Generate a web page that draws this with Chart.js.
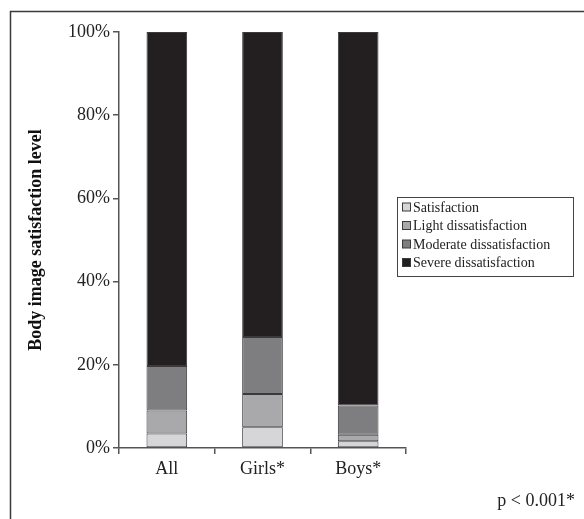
<!DOCTYPE html>
<html>
<head>
<meta charset="utf-8">
<title>Body image satisfaction</title>
<script src="https://cdn.jsdelivr.net/npm/chart.js"></script>
<style>
  html, body { margin: 0; padding: 0; background: #fff; }
  #wrap { width: 584px; height: 519px; }
</style>
</head>
<body>
<div id="wrap"><canvas id="chart" width="584" height="519"></canvas></div>
<script>
const groups = ['All', 'Girls*', 'Boys*'];
const satisfaction = [3.5, 5.0, 1.6];
const lightDissatisfaction = [5.5, 8.0, 1.6];
const moderateDissatisfaction = [10.7, 13.7, 7.0];
const severeDissatisfaction = [80.3, 73.3, 89.8];
const yTicks = [0, 20, 40, 60, 80, 100];
const pNote = 'p < 0.001*';

const serif = '"Liberation Serif", "Times New Roman", serif';
const edge = '#3a3a3a';

function series(label, data, color) {
    return {
        label: label,
        data: data,
        backgroundColor: color,
        borderColor: edge,
        borderWidth: 1,
        borderSkipped: false,
        barPercentage: 0.425,
        categoryPercentage: 1
    };
}

// frame, legend box and p-value note
const extras = {
    id: 'extras',
    afterDraw(chart) {
        const ctx = chart.ctx;
        ctx.save();
        ctx.strokeStyle = '#3a3a3a';
        ctx.lineWidth = 1.5;
        ctx.beginPath();
        ctx.moveTo(10.5, 519);
        ctx.lineTo(10.5, 11.5);
        ctx.lineTo(584, 11.5);
        ctx.stroke();

        // legend
        const bx = 397.5, by = 197.5, bw = 176, bh = 79;
        ctx.fillStyle = '#fff';
        ctx.fillRect(bx, by, bw, bh);
        ctx.lineWidth = 1;
        ctx.strokeStyle = '#444';
        ctx.strokeRect(bx, by, bw, bh);
        ctx.font = '14px ' + serif;
        ctx.textBaseline = 'middle';
        chart.data.datasets.forEach((ds, i) => {
            const cy = 207 + i * 18.5;
            ctx.fillStyle = ds.backgroundColor;
            ctx.fillRect(402.5, cy - 4, 8, 8);
            ctx.strokeStyle = edge;
            ctx.strokeRect(402.5, cy - 4, 8, 8);
            ctx.fillStyle = '#222';
            ctx.fillText(ds.label, 413, cy + 1);
        });

        ctx.font = '18px ' + serif;
        ctx.textAlign = 'right';
        ctx.textBaseline = 'alphabetic';
        ctx.fillStyle = '#222';
        ctx.fillText(pNote, 575, 506);
        ctx.restore();
    }
};

new Chart(document.getElementById('chart'), {
    type: 'bar',
    data: {
        labels: groups,
        datasets: [
            series('Satisfaction', satisfaction, '#d6d6d8'),
            series('Light dissatisfaction', lightDissatisfaction, '#a9a9ab'),
            series('Moderate dissatisfaction', moderateDissatisfaction, '#7e7e81'),
            series('Severe dissatisfaction', severeDissatisfaction, '#231f20')
        ]
    },
    options: {
        responsive: false,
        animation: false,
        layout: { padding: { top: 32, right: 178, bottom: 0, left: 0 } },
        plugins: {
            legend: { display: false },
            tooltip: { enabled: false }
        },
        scales: {
            x: {
                stacked: true,
                afterFit(scale) { scale.height = 71; },
                border: { color: '#555', width: 1.5 },
                grid: { offset: true, drawOnChartArea: false, drawTicks: true, tickLength: 6, color: '#555', lineWidth: 1.5 },
                ticks: { color: '#222', padding: 4, font: { family: serif, size: 18 } }
            },
            y: {
                stacked: true,
                min: 0,
                max: 100,
                afterFit(scale) { scale.width = 119; },
                afterBuildTicks(scale) { scale.ticks = yTicks.map(v => ({ value: v })); },
                border: { color: '#555', width: 1.5 },
                grid: { drawOnChartArea: false, drawTicks: true, tickLength: 6, color: '#555', lineWidth: 1.5 },
                ticks: {
                    color: '#222',
                    padding: 3,
                    font: { family: serif, size: 18 },
                    callback: v => v + '%'
                },
                title: {
                    display: true,
                    text: 'Body image satisfaction level',
                    color: '#111',
                    padding: { top: 26, bottom: 0 },
                    font: { family: serif, size: 18, weight: 'bold' }
                }
            }
        }
    },
    plugins: [extras]
});
</script>
</body>
</html>
